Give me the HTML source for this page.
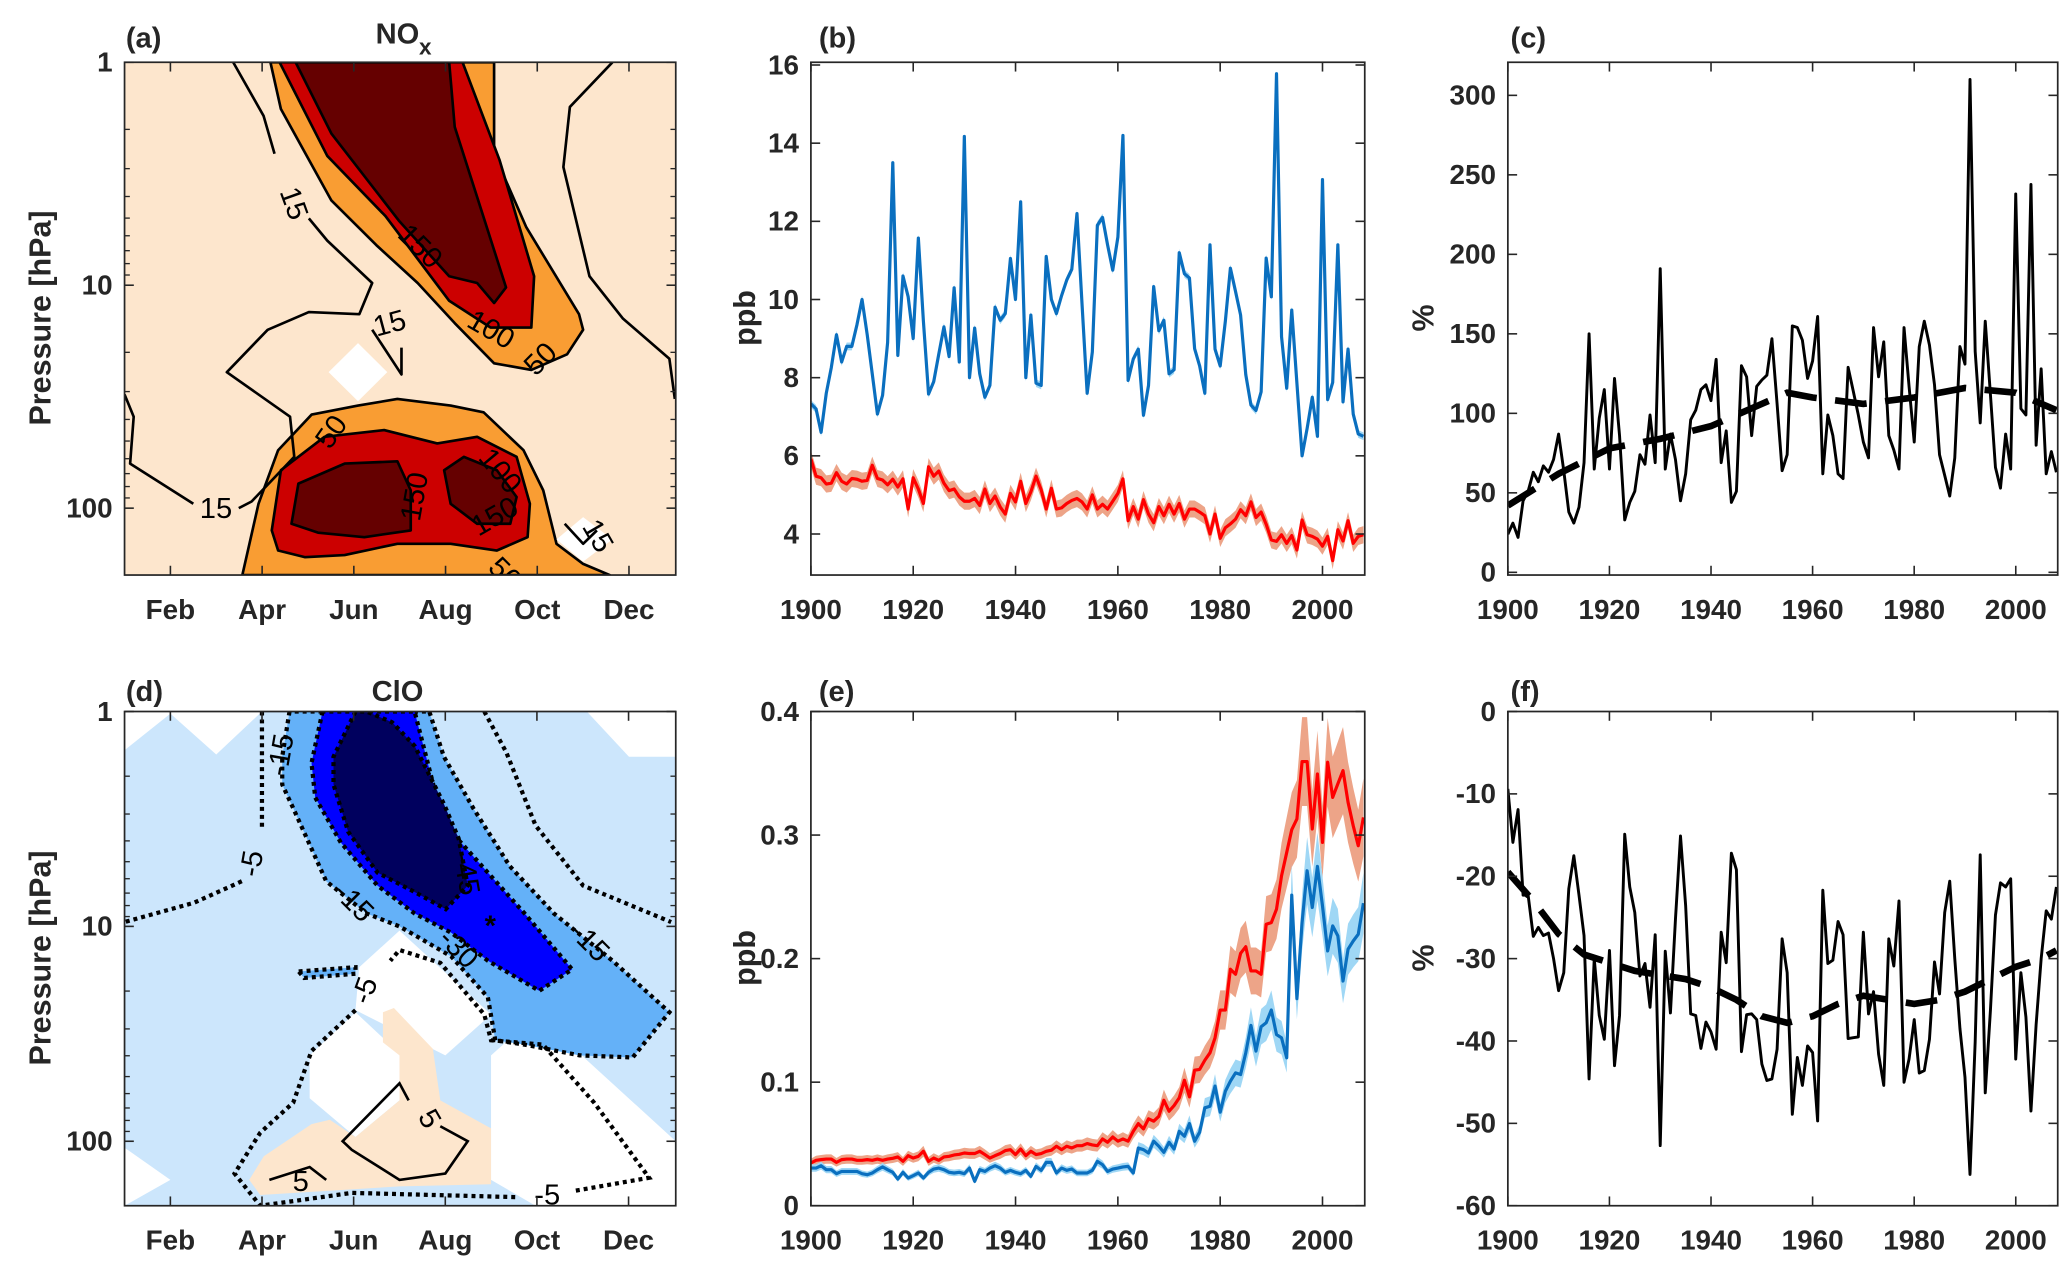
<!DOCTYPE html>
<html><head><meta charset="utf-8"><style>
html,body{margin:0;padding:0;background:#fff;}
svg{display:block;font-family:"Liberation Sans",Arial,sans-serif;}
</style></head><body>
<svg id="fig" width="2067" height="1268" viewBox="0 0 1560 957" preserveAspectRatio="none" xmlns="http://www.w3.org/2000/svg"></svg>
<script>
// ---------- data ----------
const years = []; for (let y = 1900; y <= 2008; y++) years.push(y);
const noxBlue = [7.33,7.2,6.6,7.6,8.26,9.1,8.4,8.8,8.8,9.36,10.0,9.1,8.1,7.07,7.55,8.9,13.5,8.57,10.6,10.07,9.0,11.57,9.45,7.58,7.9,8.6,9.3,8.54,10.3,8.4,14.17,8.0,9.27,8.1,7.5,7.8,9.8,9.47,9.64,11.05,10.0,12.5,8.0,9.6,7.86,7.8,11.1,10.0,9.64,10.1,10.5,10.77,12.2,9.9,7.6,8.66,11.9,12.1,11.4,10.75,11.6,14.2,7.93,8.48,8.73,7.04,7.8,10.33,9.2,9.47,8.1,8.2,11.2,10.66,10.55,8.74,8.3,7.6,11.4,8.73,8.3,9.45,10.8,10.2,9.6,8.08,7.3,7.16,7.64,11.06,10.07,15.78,9.05,7.73,9.73,7.86,6.0,6.7,7.5,6.5,13.07,7.44,7.88,11.4,7.38,8.73,7.07,6.56,6.5];
const noxRed = [5.92,5.48,5.44,5.28,5.3,5.57,5.35,5.28,5.42,5.4,5.35,5.37,5.76,5.42,5.38,5.26,5.4,5.2,5.41,4.64,5.44,5.15,4.78,5.72,5.48,5.61,5.3,5.11,5.15,4.95,4.84,4.84,4.91,4.73,5.15,4.78,4.97,4.69,4.51,5.04,4.82,5.35,4.78,5.08,5.48,5.13,4.64,5.17,4.64,4.67,4.78,4.86,4.91,4.82,4.64,5.0,4.64,4.76,4.64,4.84,5.04,5.41,4.34,4.7,4.38,4.88,4.51,4.29,4.7,4.47,4.76,4.51,4.78,4.38,4.64,4.64,4.56,4.47,4.0,4.51,3.89,4.16,4.26,4.38,4.62,4.47,4.82,4.42,4.56,4.25,3.85,3.81,3.98,3.76,3.96,3.59,4.36,3.98,3.94,3.87,3.69,3.94,3.32,4.11,3.82,4.34,3.76,3.94,3.98];
const noxRedSpread = 0.22, noxBlueSpread = 0.1;
const noxPct = [24,31,22,45,51,63,57,67,63,71,87,64,38,31,41,69,150,65,97,115,65,122,86,33,44,51,74,68,99,69,191,65,87,71,45,62,96,102,115,118,108,134,69,89,44,51,130,123,86,117,121,124,147,106,64,74,155,154,146,122,133,161,62,99,86,62,59,129,114,99,82,72,154,123,145,86,77,65,154,117,82,142,158,143,118,74,61,48,72,142,131,310,139,94,158,112,66,53,87,65,238,103,99,244,80,128,62,76,63];
const noxTrendYears = [1900,1910,1920,1930,1940,1950,1955,1960,1970,1980,1990,2000,2008];
const noxTrend = [42,62,78,84,92,106,113,110,106,110,116,113,102];
const cloRed = [1370,1362,1360,1358,1358,1368,1360,1358,1358,1362,1362,1360,1362,1358,1362,1358,1356,1352,1365,1348,1355,1350,1335,1365,1355,1362,1352,1350,1346,1344,1340,1342,1342,1335,1345,1355,1348,1342,1333,1330,1345,1328,1348,1335,1345,1342,1335,1332,1320,1330,1320,1325,1318,1318,1312,1316,1318,1298,1308,1292,1305,1298,1305,1275,1252,1268,1238,1245,1230,1182,1215,1198,1175,1122,1172,1092,1090,1062,1040,995,912,912,790,805,742,722,795,795,805,655,650,610,510,440,372,340,168,168,370,205,410,170,275,235,195,290,360,420,335].map(v => +((1498 - v) / 3700).toFixed(4));
const cloBlue = [1385,1385,1378,1390,1390,1402,1395,1395,1395,1395,1402,1405,1400,1390,1382,1390,1398,1418,1398,1415,1408,1400,1415,1398,1388,1385,1390,1398,1400,1398,1402,1385,1425,1390,1395,1385,1378,1385,1398,1392,1398,1402,1392,1410,1380,1392,1368,1368,1400,1385,1392,1388,1400,1400,1400,1392,1365,1375,1395,1388,1385,1382,1380,1400,1325,1330,1340,1305,1320,1338,1308,1328,1275,1290,1252,1305,1278,1205,1200,1140,1218,1155,1125,1100,1105,1040,958,1035,962,950,912,985,995,1055,568,878,650,495,605,482,600,735,660,690,825,730,705,685,592].map(v => +((1498 - v) / 3700).toFixed(4));
const cloRelSpread = 0.1;
const cloPct = [-9.4,-15.9,-11.9,-22.3,-22.3,-27.3,-26.2,-27.2,-26.9,-30,-33.9,-31.7,-21.5,-17.5,-22.3,-27.2,-44.6,-30,-36.9,-39.8,-29,-43,-36.9,-14.9,-21.3,-24.4,-32.1,-30.6,-35.9,-27.1,-52.7,-29.1,-36.6,-25.2,-15.1,-23.6,-36.7,-36.9,-40.9,-37.7,-38.9,-41,-26.8,-30.5,-17.2,-19.2,-41.3,-36.8,-36.7,-37.4,-42.8,-44.8,-44.6,-41,-27.6,-31.7,-48.9,-42,-45.4,-40.6,-41.4,-49.7,-21.7,-30.6,-30.2,-25.5,-27.1,-39.7,-39.6,-39.5,-26.8,-36.7,-34,-41.6,-45.4,-27.6,-30.9,-23,-45,-42.2,-37.4,-43.9,-43.6,-39.8,-30.4,-34.3,-24.4,-20.6,-30,-38.5,-44.4,-56.2,-40.1,-17.4,-46.3,-36.3,-24.7,-20.8,-21.3,-20.3,-42.2,-31.7,-37.1,-48.5,-38,-30,-24.2,-25.2,-21.3];
const cloTrendYears = [1900,1905,1910,1915,1920,1925,1930,1935,1940,1945,1950,1955,1960,1965,1970,1975,1980,1985,1990,1995,2000,2005,2008];
const cloTrend = [-19.5,-23,-27,-29.5,-30.5,-31.5,-32,-32.5,-33.5,-35,-37,-37.8,-37,-35.5,-34.5,-35,-35.5,-35,-34,-32.5,-31,-30,-29];
const monthTicks = [2,4,6,8,10,12];
const monthLabels = ["Feb","Apr","Jun","Aug","Oct","Dec"];
const yearTicks = [1900,1920,1940,1960,1980,2000];
// contour regions [month, log10(hPa)]
const noxOrangeTop = [[4.18,0],[4.41,0.21],[5.51,0.62],[6.49,0.82],[7.39,0.99],[8.2,1.17],[9.06,1.35],[9.87,1.38],[10.65,1.31],[11.0,1.2],[10.91,1.13],[9.76,0.74],[9.06,0.41],[9.06,0]];
const noxRedTop = [[4.38,0],[5.42,0.42],[6.69,0.69],[8.08,1.07],[8.98,1.19],[9.87,1.19],[9.93,0.96],[9.18,0.44],[8.37,0]];
const noxDarkTop = [[4.73,0],[5.51,0.32],[6.98,0.71],[8.08,0.96],[8.69,0.99],[9.06,1.08],[9.32,1.01],[8.2,0.29],[8.08,0]];
const noxOrangeLow = [[3.57,2.3],[3.92,1.98],[4.35,1.74],[5.08,1.58],[6.09,1.54],[6.95,1.51],[8.11,1.54],[8.83,1.57],[9.7,1.74],[10.13,1.92],[10.42,2.16],[11.0,2.25],[11.58,2.3]];
const noxRedLow = [[4.21,2.1],[4.41,1.83],[5.36,1.68],[6.66,1.65],[7.82,1.71],[8.69,1.68],[9.55,1.77],[9.84,1.98],[9.79,2.13],[9.12,2.19],[8.11,2.16],[6.95,2.16],[5.8,2.21],[4.93,2.22],[4.35,2.19]];
const noxDarkLowA = [[4.64,2.07],[4.79,1.89],[5.8,1.8],[6.95,1.79],[7.24,1.92],[7.24,2.1],[6.23,2.13],[5.22,2.11]];
const noxDarkLowB = [[7.97,1.83],[8.4,1.77],[9.12,1.83],[9.55,1.95],[9.41,2.07],[8.69,2.07],[8.11,1.98]];
const noxWhiteA = [[6.09,1.26],[6.73,1.39],[6.09,1.52],[5.45,1.39]];
const noxWhiteB = [[11.0,2.04],[11.64,2.14],[11.0,2.24],[10.42,2.14]];
const nox15a = [[3.37,0],[4.03,0.24],[4.27,0.41]];
const nox15b = [[5.02,0.7],[5.42,0.8],[6.4,0.99],[6.12,1.13],[5.02,1.12],[4.12,1.2],[3.23,1.39],[4.61,1.59],[4.7,1.77],[3.77,1.97],[3.49,2.0]];
const nox15c = [[2.5,1.98],[1.12,1.8],[1.2,1.59],[1.0,1.49]];
const nox15d = [[11.64,0],[10.71,0.2],[10.57,0.47],[11.14,0.96],[11.87,1.15],[12.88,1.33],[13.0,1.51]];
const nox15e = [[6.4,1.2],[7.04,1.4],[7.04,1.28]];
const nox15f = [[10.6,2.07],[11.0,2.16],[11.3,2.1]];
const cloWhiteTL = [[1,0],[1,0.18],[2.0,0.01],[3.0,0.2],[4.0,0]];
const cloWhiteTR = [[11.09,0],[12.01,0.21],[13.03,0.21],[13.03,0]];
const cloWhiteC = [[6.12,1.19],[7.0,1.02],[9.0,1.41],[8.0,1.6],[6.04,1.39]];
const cloWhiteL = [[5.04,1.6],[6.04,1.4],[7.0,1.59],[7.0,1.81],[6.04,1.98],[5.04,1.8]];
const cloWhiteR = [[9.0,1.6],[10.0,1.41],[13.03,2.0],[13.03,2.3],[9.97,2.3],[9.0,2.18]];
const cloWhiteBL = [[1,2.03],[2.0,2.18],[1,2.3]];
const cloPeach = [[3.72,2.18],[4.04,2.07],[5.08,1.92],[5.48,1.9],[6.04,1.98],[7.0,1.81],[7.0,1.6],[6.64,1.54],[6.64,1.4],[6.88,1.38],[7.73,1.57],[7.89,1.81],[9.0,1.94],[9.0,2.2],[7.0,2.21],[3.96,2.25]];
const clo15 = [[4.6,0],[4.44,0.21],[4.44,0.34],[4.68,0.45],[5.4,0.79],[6.28,0.94],[7.0,1.0],[7.49,1.06],[8.13,1.14],[8.93,1.33],[9.09,1.53],[9.73,1.55],[10.93,1.6],[12.09,1.61],[12.89,1.4],[11.65,1.16],[10.37,0.94],[9.41,0.72],[8.61,0.45],[7.97,0.21],[7.65,0]];
const clo15s = [[4.8,1.21],[6.04,1.19],[6.04,1.22],[4.92,1.24]];
const clo30 = [[5.32,0],[5.08,0.24],[5.16,0.4],[5.72,0.61],[6.52,0.81],[7.33,0.94],[8.13,1.03],[8.93,1.16],[10.05,1.3],[10.77,1.2],[9.73,0.94],[8.93,0.75],[8.13,0.56],[7.81,0.4],[7.33,0]];
const clo45 = [[6.04,0],[5.56,0.21],[5.56,0.34],[5.88,0.56],[6.52,0.75],[7.33,0.84],[8.01,0.92],[8.49,0.81],[8.29,0.59],[7.97,0.43],[7.33,0.16],[6.84,0.05],[6.28,0]];
const cloM5a = [[4.0,0],[4.0,0.54]];
const cloM5b = [[3.56,0.79],[2.52,0.89],[1,0.98]];
const cloM5c = [[8.85,0],[9.33,0.19],[9.97,0.53],[11.01,0.81],[12.93,0.98]];
const cloM5d = [[6.04,1.39],[5.08,1.58],[4.68,1.82],[3.96,1.96],[3.4,2.15],[3.96,2.3],[5.96,2.24],[9.53,2.26]];
const cloM5e = [[10.85,2.23],[12.45,2.17],[11.25,1.82],[10.13,1.55],[9.0,1.53],[8.85,1.41],[7.89,1.17],[7.0,1.11],[6.8,1.16]];
const clo5a = [[7.2,1.81],[7.0,1.73],[5.76,2.0],[5.96,2.04],[7.0,2.18],[8.0,2.15],[8.49,2.0],[7.89,1.93]];
const clo5b = [[4.16,2.18],[5.04,2.12],[5.4,2.18]];

// ---------- helpers ----------
const NS = "http://www.w3.org/2000/svg";
const svg = document.getElementById("fig");
function el(tag, attrs, parent) {
  const e = document.createElementNS(NS, tag);
  for (const k in attrs) e.setAttribute(k, attrs[k]);
  (parent || svg).appendChild(e);
  return e;
}
function lin(d0, d1, r0, r1) { return v => r0 + (v - d0) / (d1 - d0) * (r1 - r0); }
function txt(x, y, s, size, anchor, parent, rot, weight) {
  const t = el("text", {x: x, y: y, "font-size": size, "text-anchor": anchor || "middle", "font-weight": weight || "bold", fill: "#262626"}, parent);
  if (rot) t.setAttribute("transform", "rotate(" + rot + " " + x + " " + y + ")");
  t.textContent = s;
  return t;
}
function makeGroup(name) {
  const g = el("g", {});
  
  
  return g;
}
function ptsStr(arr, xs, ys) { return arr.map(p => xs(p[0]).toFixed(1) + "," + ys(p[1]).toFixed(1)).join(" "); }

const PAN = {
  a: {x0: 94, x1: 510, y0: 47, y1: 434},
  b: {x0: 612, x1: 1030, y0: 47, y1: 434},
  c: {x0: 1138, x1: 1553, y0: 47, y1: 434},
  d: {x0: 94, x1: 510, y0: 537, y1: 910},
  e: {x0: 612, x1: 1030, y0: 537, y1: 910},
  f: {x0: 1138, x1: 1553, y0: 537, y1: 910}
};

function frame(p, g) {
  const r = el("rect", {x: p.x0, y: p.y0, width: p.x1 - p.x0, height: p.y1 - p.y0, fill: "none", stroke: "#262626", "stroke-width": 1.3}, g);
  
  
}
function xTicks(p, g, xs, ticks, labels) {
  ticks.forEach((t, i) => {
    const x = xs(t);
    el("line", {x1: x, x2: x, y1: p.y1, y2: p.y1 - 7, stroke: "#262626", "stroke-width": 1.2}, g);
    el("line", {x1: x, x2: x, y1: p.y0, y2: p.y0 + 7, stroke: "#262626", "stroke-width": 1.2}, g);
    const t2 = txt(x, p.y1 + 33, labels[i], 21, "middle", g);
    
    
  });
}
function yTicks(p, g, ys, ticks, labels, len) {
  ticks.forEach((t, i) => {
    const y = ys(t);
    el("line", {x1: p.x0, x2: p.x0 + (len || 7), y1: y, y2: y, stroke: "#262626", "stroke-width": 1.2}, g);
    el("line", {x1: p.x1, x2: p.x1 - (len || 7), y1: y, y2: y, stroke: "#262626", "stroke-width": 1.2}, g);
    if (labels) {
      const t2 = txt(p.x0 - 9, y + 7, labels[i], 21, "end", g);
      
      
    }
  });
}
function polyline(arr, xs, ys, g, attrs, name) {
  const a = Object.assign({points: ptsStr(arr, xs, ys), fill: "none"}, attrs);
  const e = el("polyline", a, g);
  
  
  return e;
}
function polygon(arr, xs, ys, g, attrs, name) {
  const a = Object.assign({points: ptsStr(arr, xs, ys)}, attrs);
  const e = el("polygon", a, g);
  
  
  return e;
}
function band(xArr, yArr, spreadFn, xs, ys, g, color, name) {
  const up = xArr.map((x, i) => [x, yArr[i] + spreadFn(yArr[i], i)]);
  const dn = xArr.map((x, i) => [x, yArr[i] - spreadFn(yArr[i], i)]).reverse();
  polygon(up.concat(dn), xs, ys, g, {fill: color, stroke: "none"}, name);
}
function zip(a, b) { return a.map((v, i) => [v, b[i]]); }
function logMinor(p, g, ys) {
  [2,3,4,5,6,7,8,9,20,30,40,50,60,70,80,90,200].forEach(v => {
    const L = Math.log10(v);
    if (L > 2.3) return;
    const y = ys(L);
    el("line", {x1: p.x0, x2: p.x0 + 4, y1: y, y2: y, stroke: "#262626", "stroke-width": 1}, g);
    el("line", {x1: p.x1, x2: p.x1 - 4, y1: y, y2: y, stroke: "#262626", "stroke-width": 1}, g);
  });
}

// clip paths
const defs = el("defs", {});
Object.keys(PAN).forEach(k => {
  const p = PAN[k];
  const cp = el("clipPath", {id: "clip-" + k}, defs);
  el("rect", {x: p.x0, y: p.y0, width: p.x1 - p.x0, height: p.y1 - p.y0}, cp);
});

// ---------- panel a ----------
(function () {
  const p = PAN.a, g = makeGroup("panel-a-nox-contour");
  const xs = lin(1, 13.02, p.x0, p.x1), ys = lin(0, 2.3, p.y0, p.y1);
  const c = el("g", {"clip-path": "url(#clip-a)"}, g);
  el("rect", {x: p.x0, y: p.y0, width: p.x1 - p.x0, height: p.y1 - p.y0, fill: "#fde6cd"}, c);
  const K = {stroke: "#000", "stroke-width": 2, "stroke-linejoin": "round"};
  polygon(noxOrangeTop, xs, ys, c, Object.assign({fill: "#f99d33"}, K), "contour-50-upper");
  polygon(noxRedTop, xs, ys, c, Object.assign({fill: "#cc0000"}, K), "contour-100-upper");
  polygon(noxDarkTop, xs, ys, c, Object.assign({fill: "#650000"}, K), "contour-150-upper");
  polygon(noxOrangeLow, xs, ys, c, Object.assign({fill: "#f99d33"}, K), "contour-50-lower");
  polygon(noxRedLow, xs, ys, c, Object.assign({fill: "#cc0000"}, K), "contour-100-lower");
  polygon(noxDarkLowA, xs, ys, c, Object.assign({fill: "#650000"}, K), "contour-150-lower-left");
  polygon(noxDarkLowB, xs, ys, c, Object.assign({fill: "#650000"}, K), "contour-150-lower-right");
  polygon(noxWhiteA, xs, ys, c, {fill: "#fff"}, "missing-data-patch");
  polygon(noxWhiteB, xs, ys, c, {fill: "#fff"}, "missing-data-patch");
  [nox15a, nox15b, nox15c, nox15d, nox15e, nox15f].forEach(l => polyline(l, xs, ys, c, K, "contour-15-line"));
  const labs = [["15",215,148,70],["150",312,183,45],["100",367,247,30],["50",413,268,-45],["15",296,243,-15],["50",256,322,-55],["15",163,383,0],["100",372,352,50],["150",320,368,-80],["150",377,388,-30],["50",376,430,45],["15",445,400,60]];
  labs.forEach(l => {
    const t = txt(l[1], l[2] + 8, l[0], 22, "middle", c, l[3], "normal");
    t.setAttribute("fill", "#000");
    
    
  });
  frame(p, g);
  xTicks(p, g, xs, monthTicks, monthLabels);
  yTicks(p, g, ys, [0, 1, 2], ["1", "10", "100"]);
  logMinor(p, g, ys);
  const pl = txt(95, 36, "(a)", 22, "start", g);  
  const ti = txt(300, 33, "NO", 22, "middle", g);  
  const sub = txt(321, 41, "x", 17, "middle", g);  
  const yl = txt(38, 240, "Pressure [hPa]", 23, "middle", g, -90);  
})();

// ---------- panel b ----------
(function () {
  const p = PAN.b, g = makeGroup("panel-b-nox-timeseries");
  const xs = lin(1900, 2008, p.x0, p.x1 - 1), ys = lin(2.95, 16.07, p.y1, p.y0);
  const c = el("g", {"clip-path": "url(#clip-b)"}, g);
  band(years, noxRed, () => noxRedSpread, xs, ys, c, "#eda488", "red-uncertainty-band");
  band(years, noxBlue, () => noxBlueSpread, xs, ys, c, "#9fd7f5", "blue-uncertainty-band");
  polyline(zip(years, noxBlue), xs, ys, c, {stroke: "#0a6fbf", "stroke-width": 2.4, "stroke-linejoin": "round"}, "blue-series-line");
  polyline(zip(years, noxRed), xs, ys, c, {stroke: "#ff0000", "stroke-width": 2.4, "stroke-linejoin": "round"}, "red-series-line");
  frame(p, g);
  xTicks(p, g, xs, yearTicks, yearTicks.map(String));
  yTicks(p, g, ys, [4,6,8,10,12,14,16], ["4","6","8","10","12","14","16"]);
  const pl = txt(618, 36, "(b)", 22, "start", g);  
  const yl = txt(570, 240, "ppb", 23, "middle", g, -90);  
})();

// ---------- panel c ----------
(function () {
  const p = PAN.c, g = makeGroup("panel-c-nox-percent");
  const xs = lin(1900, 2008, p.x0, p.x1 - 1), ys = lin(-1.7, 320.8, p.y1, p.y0);
  const c = el("g", {"clip-path": "url(#clip-c)"}, g);
  polyline(zip(noxTrendYears, noxTrend), xs, ys, c, {stroke: "#000", "stroke-width": 5, "stroke-dasharray": "24 14"}, "trend-dashed-line");
  polyline(zip(years, noxPct), xs, ys, c, {stroke: "#000", "stroke-width": 2.2, "stroke-linejoin": "round"}, "percent-line");
  frame(p, g);
  xTicks(p, g, xs, yearTicks, yearTicks.map(String));
  yTicks(p, g, ys, [0,50,100,150,200,250,300], ["0","50","100","150","200","250","300"]);
  const pl = txt(1140, 36, "(c)", 22, "start", g);  
  const yl = txt(1082, 240, "%", 23, "middle", g, -90);  
})();

// ---------- panel d ----------
(function () {
  const p = PAN.d, g = makeGroup("panel-d-clo-contour");
  const xs = lin(1, 13.03, p.x0, p.x1), ys = lin(0, 2.3, p.y0, p.y1);
  const c = el("g", {"clip-path": "url(#clip-d)"}, g);
  el("rect", {x: p.x0, y: p.y0, width: p.x1 - p.x0, height: p.y1 - p.y0, fill: "#cce6fc"}, c);
  [cloWhiteTL, cloWhiteTR, cloWhiteC, cloWhiteL, cloWhiteR, cloWhiteBL].forEach(w => polygon(w, xs, ys, c, {fill: "#fff"}, "zero-region"));
  polygon(cloPeach, xs, ys, c, {fill: "#fde6cd"}, "positive-region");
  const D = {stroke: "#000", "stroke-width": 3.2, "stroke-dasharray": "3 3"};
  polygon(clo15, xs, ys, c, Object.assign({fill: "#64b1f8"}, D), "contour-minus15");
  polygon(clo15s, xs, ys, c, Object.assign({fill: "#64b1f8"}, D), "contour-minus15-small");
  polygon(clo30, xs, ys, c, Object.assign({fill: "#0000ff"}, D), "contour-minus30");
  polygon(clo45, xs, ys, c, Object.assign({fill: "#00005e"}, D), "contour-minus45");
  [cloM5a, cloM5b, cloM5c, cloM5d, cloM5e].forEach(l => polyline(l, xs, ys, c, D, "contour-minus5-line"));
  polyline(clo5a, xs, ys, c, {stroke: "#000", "stroke-width": 2}, "contour-5-line");
  polyline(clo5b, xs, ys, c, {stroke: "#000", "stroke-width": 2}, "contour-5-line");
  const labs = [["-15",219,563,-80],["-5",197,645,-80],["-15",262,678,45],["-45",345,653,80],["-30",341,713,45],["-15",440,708,45],["-5",282,742,-70],["5",318,840,60],["-5",413,901,0],["5",227,891,0]];
  labs.forEach(l => {
    const t = txt(l[1], l[2] + 8, l[0], 22, "middle", c, l[3], "normal");
    t.setAttribute("fill", "#000");
    
    
  });
  const st = txt(370, 706, "*", 22, "middle", c, 0, "bold"); st.setAttribute("fill", "#000");
   
  frame(p, g);
  xTicks(p, g, xs, monthTicks, monthLabels);
  yTicks(p, g, ys, [0, 1, 2], ["1", "10", "100"]);
  logMinor(p, g, ys);
  const pl = txt(95, 529, "(d)", 22, "start", g);  
  const ti = txt(300, 529, "ClO", 22, "middle", g);  
  const yl = txt(38, 723, "Pressure [hPa]", 23, "middle", g, -90);  
})();

// ---------- panel e ----------
(function () {
  const p = PAN.e, g = makeGroup("panel-e-clo-timeseries");
  const xs = lin(1900, 2008, p.x0, p.x1 - 1), ys = lin(0, 0.4, p.y1, p.y0);
  const c = el("g", {"clip-path": "url(#clip-e)"}, g);
  band(years, cloRed, v => Math.max(0.002, v * cloRelSpread), xs, ys, c, "#eda488", "red-uncertainty-band");
  band(years, cloBlue, v => Math.max(0.0015, v * cloRelSpread), xs, ys, c, "#9fd7f5", "blue-uncertainty-band");
  polyline(zip(years, cloBlue), xs, ys, c, {stroke: "#0a6fbf", "stroke-width": 2.4, "stroke-linejoin": "round"}, "blue-series-line");
  polyline(zip(years, cloRed), xs, ys, c, {stroke: "#ff0000", "stroke-width": 2.4, "stroke-linejoin": "round"}, "red-series-line");
  frame(p, g);
  xTicks(p, g, xs, yearTicks, yearTicks.map(String));
  yTicks(p, g, ys, [0,0.1,0.2,0.3,0.4], ["0","0.1","0.2","0.3","0.4"]);
  const pl = txt(618, 529, "(e)", 22, "start", g);  
  const yl = txt(570, 723, "ppb", 23, "middle", g, -90);  
})();

// ---------- panel f ----------
(function () {
  const p = PAN.f, g = makeGroup("panel-f-clo-percent");
  const xs = lin(1900, 2008, p.x0, p.x1 - 1), ys = lin(-60, 0, p.y1, p.y0);
  const c = el("g", {"clip-path": "url(#clip-f)"}, g);
  polyline(zip(cloTrendYears, cloTrend), xs, ys, c, {stroke: "#000", "stroke-width": 5, "stroke-dasharray": "24 14"}, "trend-dashed-line");
  polyline(zip(years, cloPct), xs, ys, c, {stroke: "#000", "stroke-width": 2.2, "stroke-linejoin": "round"}, "percent-line");
  frame(p, g);
  xTicks(p, g, xs, yearTicks, yearTicks.map(String));
  yTicks(p, g, ys, [0,-10,-20,-30,-40,-50,-60], ["0","-10","-20","-30","-40","-50","-60"]);
  const pl = txt(1140, 529, "(f)", 22, "start", g);  
  const yl = txt(1082, 723, "%", 23, "middle", g, -90);  
})();
</script>
</body></html>
